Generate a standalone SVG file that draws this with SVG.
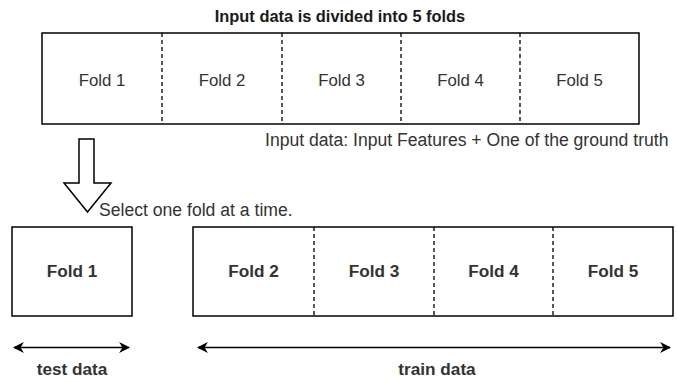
<svg xmlns="http://www.w3.org/2000/svg" width="677" height="383" viewBox="0 0 677 383">
<style>
text{font-family:"Liberation Sans",Arial,sans-serif;font-size:16.8px;fill:#333;}
.c{text-anchor:middle;}
.b{font-weight:bold;font-size:17.2px;}
.a{font-size:17.6px;}
.box{fill:#fff;stroke:#000;stroke-width:1.5;}
.div{stroke:#000;stroke-width:1.3;stroke-dasharray:4 3;fill:none;}
.ln{stroke:#000;stroke-width:1.5;fill:none;}
</style>
<defs>
<marker id="ah" markerUnits="userSpaceOnUse" viewBox="0 0 10 10" refX="9" refY="5" markerWidth="11" markerHeight="11" orient="auto-start-reverse">
<path d="M0,0 L10,5 L0,10 L3,5 Z" fill="#000"/>
</marker>
</defs>
<text class="c" x="340" y="22" style="font-weight:bold;font-size:16.4px;fill:#1a1a1a">Input data is divided into 5 folds</text>
<g id="input-data">
<rect class="box" x="42" y="33" width="597" height="91"/>
<line class="div" x1="162" y1="33" x2="162" y2="124"/>
<line class="div" x1="282" y1="33" x2="282" y2="124"/>
<line class="div" x1="401" y1="33" x2="401" y2="124"/>
<line class="div" x1="520" y1="33" x2="520" y2="124"/>
<text class="c" x="102" y="86">Fold 1</text>
<text class="c" x="222" y="86">Fold 2</text>
<text class="c" x="341.5" y="86">Fold 3</text>
<text class="c" x="460.5" y="86">Fold 4</text>
<text class="c" x="579.5" y="86">Fold 5</text>
</g>
<text class="a" x="265" y="146">Input data: Input Features + One of the ground truth</text>
<g id="select-arrow">
<polygon points="79,139 94,139 94,183 111,183 87.5,212 64,183 79,183" fill="#fff" stroke="#000" stroke-width="1.5"/>
</g>
<text class="a" x="99" y="216">Select one fold at a time.</text>
<g id="test-fold">
<rect class="box" x="12" y="227" width="120" height="89"/>
<text class="c b" x="72" y="277">Fold 1</text>
</g>
<g id="train-folds">
<rect class="box" x="193" y="227" width="480" height="89"/>
<line class="div" x1="314" y1="227" x2="314" y2="316"/>
<line class="div" x1="434" y1="227" x2="434" y2="316"/>
<line class="div" x1="553" y1="227" x2="553" y2="316"/>
<text class="c b" x="253.5" y="277">Fold 2</text>
<text class="c b" x="374" y="277">Fold 3</text>
<text class="c b" x="493.5" y="277">Fold 4</text>
<text class="c b" x="613" y="277">Fold 5</text>
</g>
<g id="connectors">
<line class="ln" x1="14" y1="347.5" x2="129" y2="347.5" marker-start="url(#ah)" marker-end="url(#ah)"/>
<line class="ln" x1="198" y1="347.5" x2="670" y2="347.5" marker-start="url(#ah)" marker-end="url(#ah)"/>
</g>
<text class="c b" x="72" y="375">test data</text>
<text class="c b" x="437" y="375">train data</text>
</svg>
